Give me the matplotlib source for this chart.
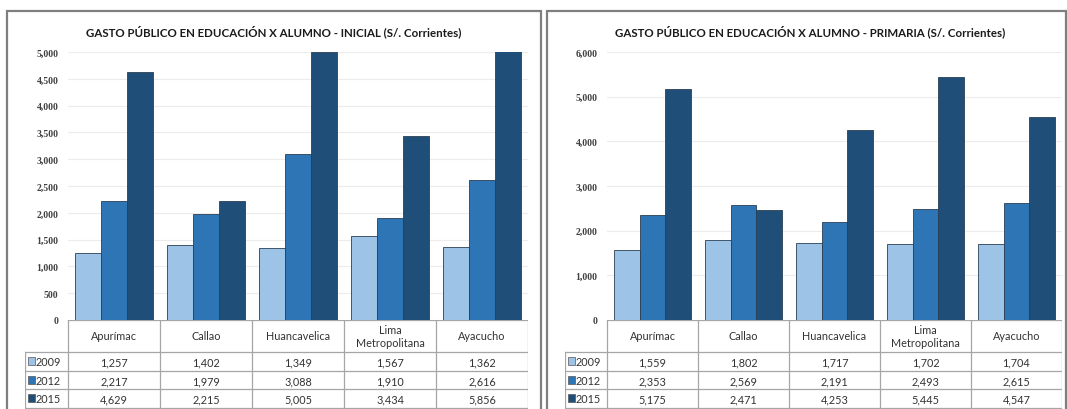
import numpy as np
import matplotlib.pyplot as plt
from matplotlib.patches import Rectangle

W, H = 1067, 410

categories = ['Apurímac', 'Callao', 'Huancavelica', 'Lima\nMetropolitana', 'Ayacucho']
years = ['2009', '2012', '2015']
colors = ['#9DC3E6', '#2E75B6', '#1F4E79']

inicial_2009 = [1257, 1402, 1349, 1567, 1362]
inicial_2012 = [2217, 1979, 3088, 1910, 2616]
inicial_2015 = [4629, 2215, 5005, 3434, 5856]

primaria_2009 = [1559, 1802, 1717, 1702, 1704]
primaria_2012 = [2353, 2569, 2191, 2493, 2615]
primaria_2015 = [5175, 2471, 4253, 5445, 4547]

plt.rcParams['font.family'] = ['Lato', 'DejaVu Sans']

fig = plt.figure(figsize=(W / 100, H / 100), dpi=100)
fig.patch.set_facecolor('white')


def px_axes(x0, y0, x1, y1):
    return fig.add_axes([x0 / W, 1 - y1 / H, (x1 - x0) / W, (y1 - y0) / H])


def panel(frame, title, series, ymax, ystep, plot_x0, plot_x1, lab_x0):
    # marco del grafico
    fx0, fx1 = frame
    fig.patches.append(Rectangle((fx0 / W, -0.05), (fx1 - fx0) / W, 1 - 12 / H + 0.05,
                                 transform=fig.transFigure, fill=False,
                                 edgecolor='#7f7f7f', lw=1.6))
    fig.text(((plot_x0 + plot_x1) / 2 - 24) / W, 1 - 32 / H, title, ha='center', va='center',
             fontsize=8.3, fontweight='bold', color='#1a1a1a')

    # barras
    ax = px_axes(plot_x0, 53, plot_x1, 321)
    x = np.arange(len(categories))
    bw = 0.28
    for j, vals in enumerate(series):
        ax.bar(x + (j - 1) * bw, vals, bw, color=colors[j], edgecolor='#2b3f55',
               linewidth=0.6, zorder=3)
    ax.set_xlim(-0.5, len(categories) - 0.5)
    ax.set_ylim(0, ymax)
    ticks = np.arange(0, ymax + 1, ystep)
    ax.set_yticks(ticks)
    ax.set_yticklabels([f'{v:,}' for v in ticks], family='Liberation Serif',
                       fontsize=7, fontweight='bold', color='#404040')
    ax.yaxis.grid(True, color='#ececec', lw=0.8, zorder=0)
    ax.tick_params(axis='y', length=0, pad=7)
    ax.set_xticks([])
    for s in ax.spines.values():
        s.set_visible(False)

    # tabla de datos
    unit = (plot_x1 - plot_x0) / len(categories)
    lw_units = (plot_x0 - lab_x0) / unit
    tx = px_axes(lab_x0, 321, plot_x1, 412)
    tx.set_xlim(-0.5 - lw_units, len(categories) - 0.5)
    tx.set_ylim(412, 321)
    tx.axis('off')
    gc = '#a6a6a6'
    rows_y = [321, 353, 372, 390, 409]
    left = -0.5 - lw_units
    right = len(categories) - 0.5
    tx.plot([-0.5, right], [321, 321], color=gc, lw=0.9)
    for y in rows_y[1:]:
        tx.plot([left, right], [y, y], color=gc, lw=0.9)
    for i in range(len(categories) + 1):
        tx.plot([i - 0.5, i - 0.5], [321, 412], color=gc, lw=0.9)
    tx.plot([left, left], [353, 412], color=gc, lw=0.9)
    for i, c in enumerate(categories):
        tx.text(i, 337, c, ha='center', va='center', fontsize=7.8, color='#333333',
                linespacing=1.15)
    for j, vals in enumerate(series):
        yc = (rows_y[j + 1] + rows_y[j + 2]) / 2
        for i, v in enumerate(vals):
            tx.text(i, yc + 0.5, f'{v:,}', ha='center', va='center', fontsize=7.8, color='#333333')
        sq = 0.075
        tx.add_patch(Rectangle((left + 0.035, yc - 4), sq, 8, facecolor=colors[j],
                               edgecolor='#555555', lw=0.5))
        tx.text(left + 0.035 + sq + 0.01, yc + 0.5, years[j], ha='left', va='center',
                fontsize=7.8, color='#333333')


panel((7, 541), 'GASTO PÚBLICO EN EDUCACIÓN X ALUMNO - INICIAL (S/. Corrientes)',
      [inicial_2009, inicial_2012, inicial_2015], 5000, 500, 68, 528, 25)
panel((547, 1066), 'GASTO PÚBLICO EN EDUCACIÓN X ALUMNO - PRIMARIA (S/. Corrientes)',
      [primaria_2009, primaria_2012, primaria_2015], 6000, 1000, 607, 1062, 565)

fig.savefig('out.png', dpi=100)
